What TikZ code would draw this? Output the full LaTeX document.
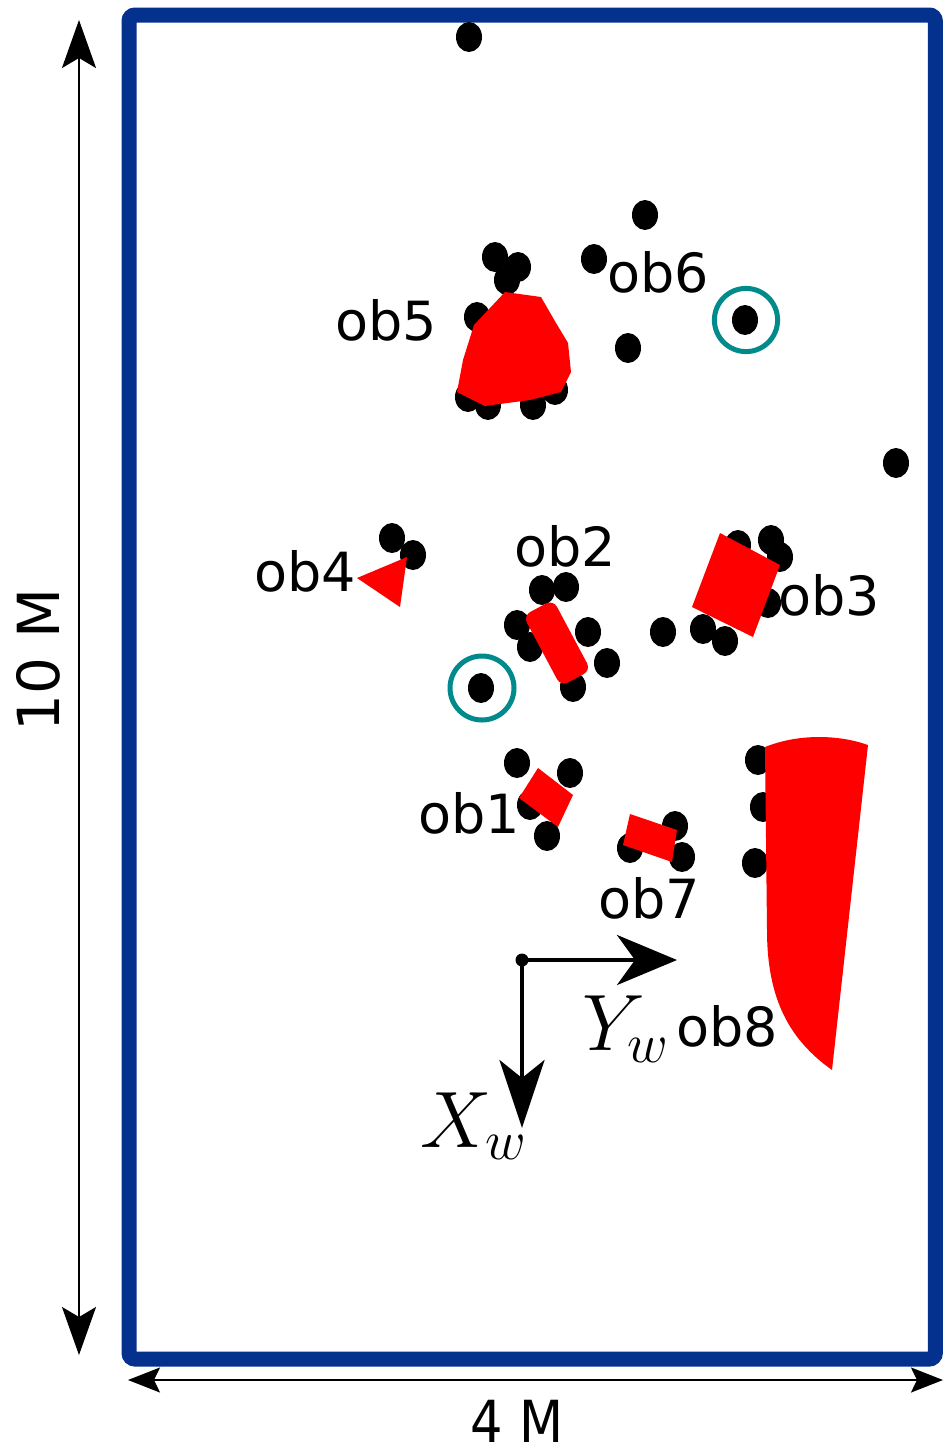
\RequirePackage{fix-cm}
\documentclass[tikz,border=0pt]{standalone}
\usepackage{fontspec}
\setmainfont{DejaVu Sans}
\usetikzlibrary{arrows.meta}
\definecolor{frameblue}{RGB}{4,48,142}
\definecolor{tealc}{RGB}{0,138,140}
\definecolor{obred}{RGB}{255,0,0}
\begin{document}
\begin{tikzpicture}[x=0.5pt,y=-0.5pt,
  lab/.style={font=\fontsize{27pt}{30pt}\selectfont, inner sep=0pt},
  mathlab/.style={font=\fontsize{40pt}{44pt}\selectfont, inner sep=0pt, anchor=base west},
  dimlab/.style={font=\fontsize{29pt}{32pt}\selectfont, inner sep=0pt},
  obst/.style={fill=obred},
  ring/.style={draw=tealc, line width=2.5pt},
  dimline/.style={line width=1pt},
  axis/.style={line width=2pt}
]
\useasboundingbox (0,0) rectangle (943,1452);
% frame
\draw[frameblue, line width=7.5pt, rounded corners=3pt] (129,15) rectangle (935.3,1359);
% dimension arrows
\coordinate (vt) at (79,20);
\coordinate (vb) at (79,1355);
\draw[dimline, {Stealth[length=24pt,width=17pt,inset=5pt]}-{Stealth[length=24pt,width=17pt,inset=5pt]}] (vt) -- (vb);
\node[dimlab, rotate=90] (tenm) at (38,660) {10 M};
\coordinate (hl) at (128,1380);
\coordinate (hr) at (943,1380);
\draw[dimline, {Stealth[length=16pt,width=12.5pt,inset=3pt]}-{Stealth[length=16pt,width=12.5pt,inset=3pt]}] (hl) -- (hr);
\node[dimlab, xscale=0.88, anchor=base] (fourm) at (517,1442) {4 M};
% black points
\foreach \px/\py in {469/37, 645/215, 594/259, 495/257, 518/267, 507/280, 477/317, 628/348, 745/320,
  468/397, 488/405, 533/405, 555/390, 896/463,
  392/538, 413/555, 542/590, 566/587, 517/625, 530/647, 588/632, 607/663, 573/687, 481/688,
  663/632, 738/545, 771/540, 780/557, 768/603, 703/629, 725/641,
  517/763, 570/773, 547/836, 530/805, 675/826, 682/857, 630/848,
  758/760, 763/807, 755/863}
  \fill (\px,\py) ellipse [x radius=6.5pt, y radius=7.5pt];
% rings
\draw[ring] (746,320) circle [radius=15.8pt];
\draw[ring] (482,688) circle [radius=16pt];
% obstacles
\fill[obst] (505,292) -- (541,297) -- (556,323) -- (568,343) -- (571,372) -- (561,392) -- (530,400) -- (485,406) -- (457,392) -- (463,360) -- (474,325) -- cycle;
\fill[obst] (357,578) -- (407,557) -- (400,607) -- cycle;
\fill[obst, rounded corners=4pt] (553.2,599.7) -- (590.8,670.3) -- (560.8,686.3) -- (523.2,615.7) -- cycle;
\fill[obst] (720,533) -- (780,565) -- (753,637) -- (692,607) -- cycle;
\fill[obst] (538,768) -- (573,795) -- (558,827) -- (519,798) -- cycle;
\fill[obst] (630,814) -- (677,830) -- (672,862) -- (623,845) -- cycle;
\fill[obst] (765,747) .. controls (800,733) and (840,735) .. (868,745) -- (832,1070) .. controls (790,1040) and (767,1000) .. (767,930) -- cycle;
% labels
\node[lab] (l5) at (386,320) {ob5};
\node[lab] (l6) at (658,272) {ob6};
\node[lab] (l4) at (305,571) {ob4};
\node[lab] (l2) at (565,546) {ob2};
\node[lab] (l3) at (829,595) {ob3};
\node[lab] (l1) at (469,813) {ob1};
\node[lab] (l7) at (649,898) {ob7};
\node[lab] (l8) at (727,1026) {ob8};
% world frame
\node[circle, fill, inner sep=0pt, minimum size=6.5pt] (o) at (522,960) {};
\coordinate (yt) at (677,960);
\coordinate (xt) at (522,1128);
\draw[axis, -{Stealth[length=30pt,width=25pt,inset=9pt]}] (o.center) -- (yt);
\draw[axis, -{Stealth[length=34pt,width=22.5pt,inset=9pt]}] (o.center) -- (xt);
\node[mathlab] (yw) at (582,1050) {$Y_w$};
\node[mathlab] (xw) at (420,1147) {$X_w$};
\end{tikzpicture}
\end{document}
